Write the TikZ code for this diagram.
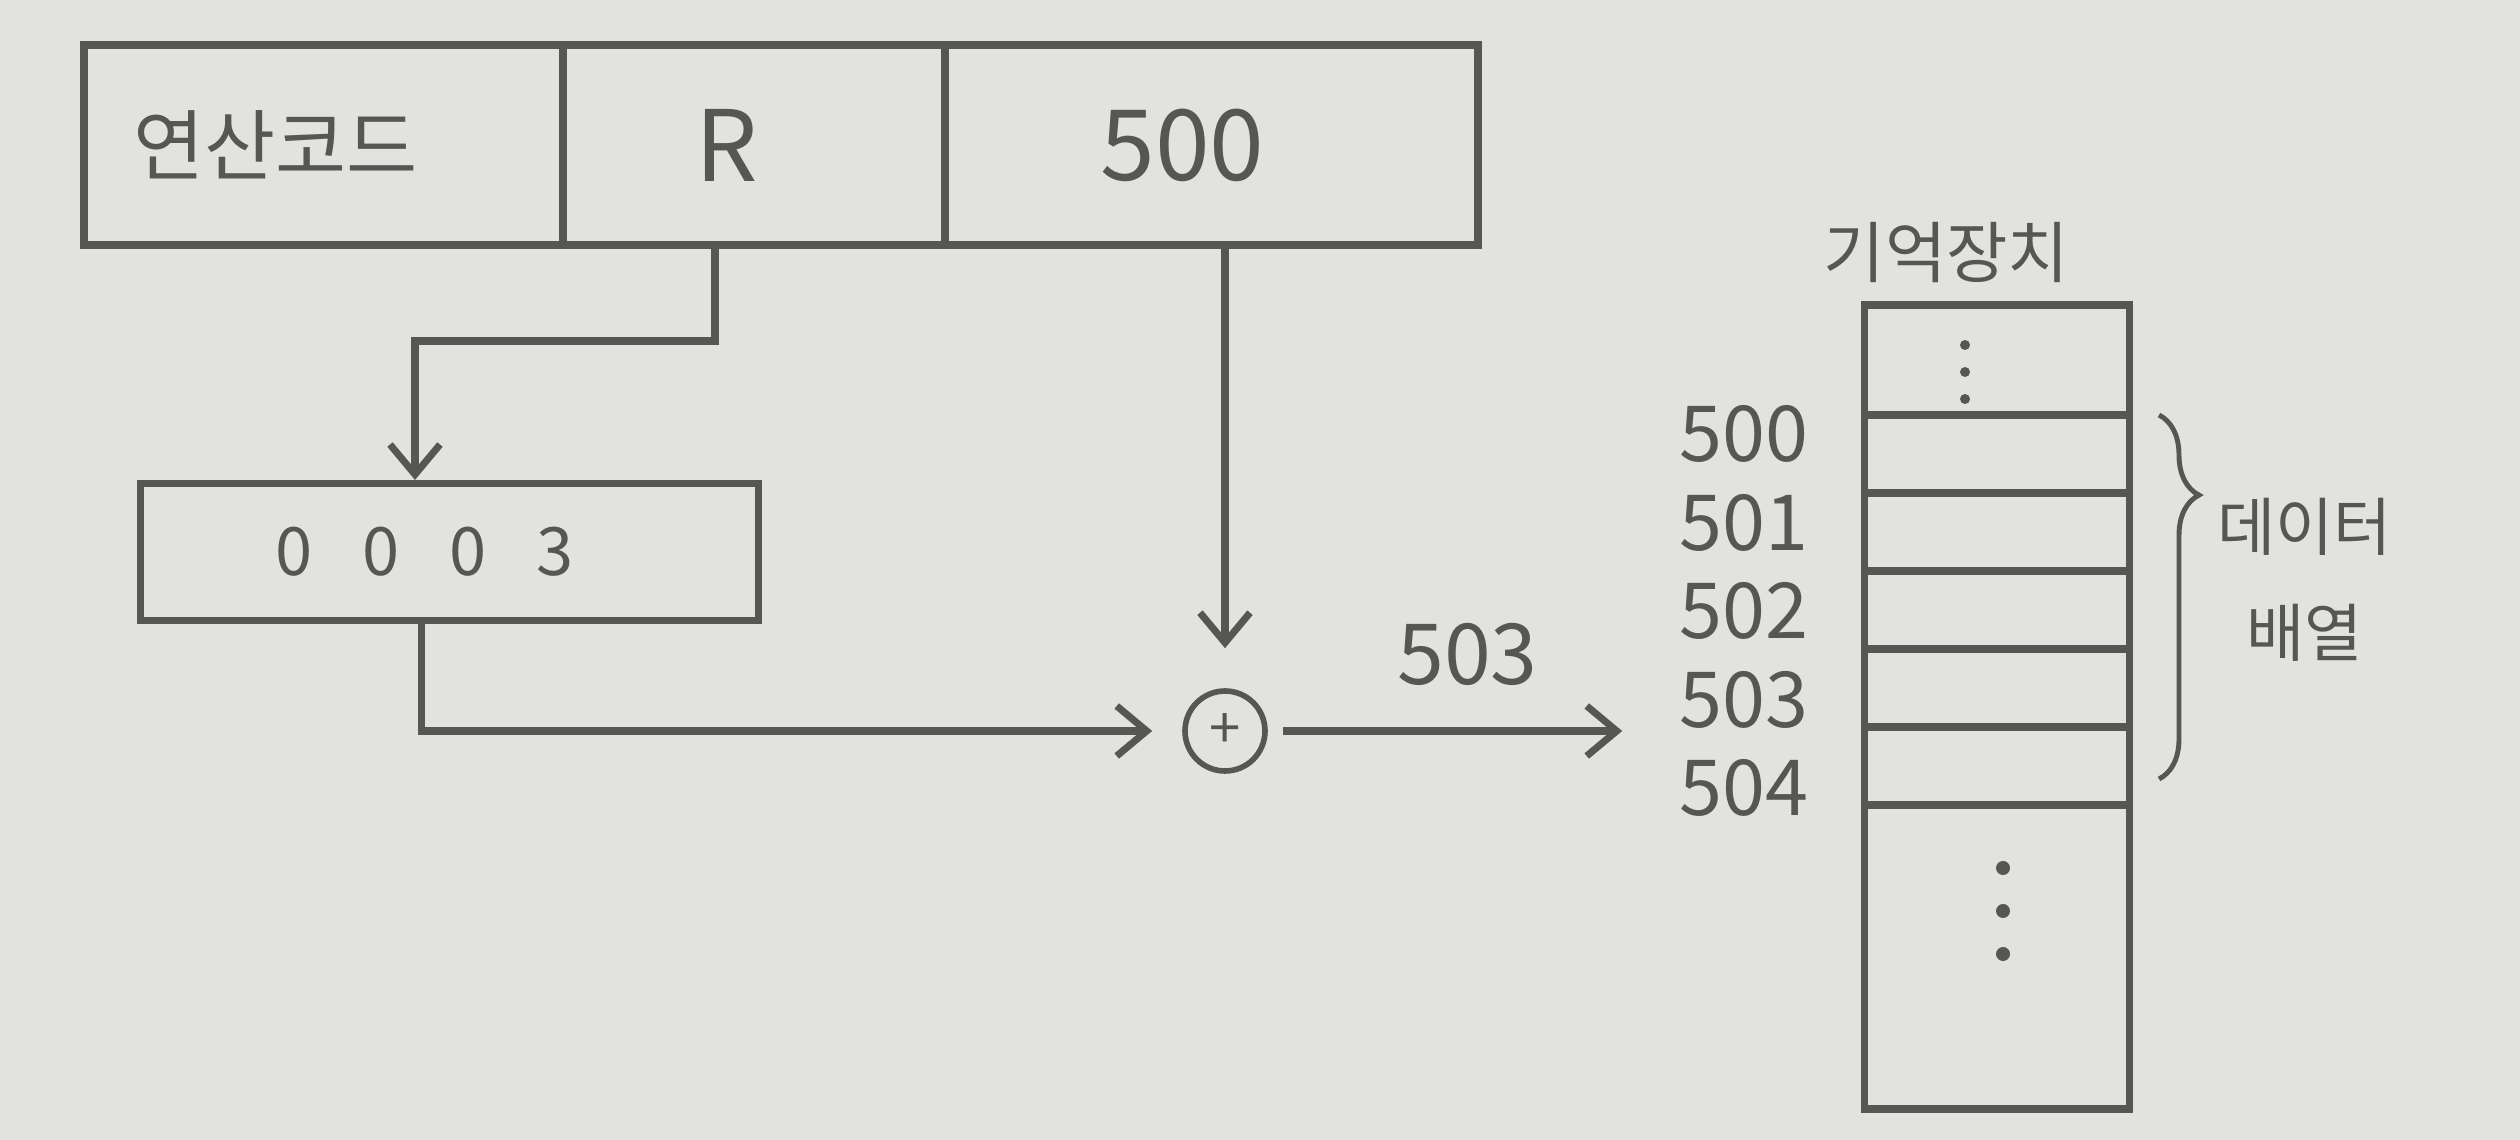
\documentclass[tikz,border=0pt]{standalone}
\usepackage{fontspec}
\newfontfamily\kr{Noto Sans CJK KR}
\usepackage{tikz}
\usetikzlibrary{arrows.meta,positioning,calc,decorations.pathreplacing}
\definecolor{ink}{RGB}{86,86,84}
\definecolor{paper}{RGB}{226,226,224}

\begin{document}
\begin{tikzpicture}[
        x=0.1mm, y=-0.1mm,
        field/.style={draw=ink, line width=2pt, outer sep=0pt,
                      minimum height=20mm, text=ink,
                      font=\kr\fontsize{22}{26}\selectfont},
        bigdigit/.style={font=\kr\fontsize{28}{32}\selectfont},
        regbox/.style={draw=ink, line width=2pt, minimum width=61.8mm,
                       minimum height=13.7mm, text=ink,
                       font=\kr\fontsize{19}{22}\selectfont},
        memcol/.style={draw=ink, line width=2pt, minimum width=26.5mm,
                       minimum height=80.4mm, outer sep=0pt},
        adder/.style={circle, draw=ink, line width=1.6pt, minimum size=8mm,
                      inner sep=0pt, text=ink,
                      font=\kr\fontsize{16}{18}\selectfont},
        lbl/.style={text=ink, font=\kr\fontsize{22}{26}\selectfont},
        arr/.style={-{Straight Barb[length=3mm, width=5mm]},
                    line width=2pt, ink},
        wire/.style={line width=2pt, ink}
      ]
        \fill[paper] (0,0) rectangle (2520,1140);

        % instruction word
        \node[field, minimum width=47.9mm, anchor=north west] (op) at (84,45)
          {\kern-9.6mm 연산코드};
        \node[field, bigdigit, minimum width=38.2mm, right=0pt of op] (reg) {\kern-5.4mm R};
        \node[field, bigdigit, minimum width=53.3mm, right=0pt of reg] (addr) {\kern-5.8mm 500};

        % index register
        \node[regbox, anchor=north west] (xr) at (137,480)
          {\kern-5mm 0\hspace{5mm}0\hspace{5mm}0\hspace{5mm}3};
        \coordinate (rbend) at (415,341);
        \draw[arr] ([xshift=-3.9mm]reg.south) |- (rbend) -- (rbend |- xr.north);

        % adder
        \node[adder] (sum) at (1225,731) {+};
        \draw[arr, shorten >=3mm] ([xshift=-2.8mm]xr.south) |- (sum.west);
        \draw[arr, shorten >=4mm] (addr.south -| sum.north) -- (sum.north);

        % memory
        \node[memcol, anchor=north west] (mem) at (1864,305) {};
        \node[lbl, font=\kr\fontsize{19}{22}\selectfont, above=1mm of mem.north,
              xshift=-5mm] (memlbl) {기억장치};
        \foreach \i in {0,...,5}
          \draw[wire] (mem.west |- 0,{415+78*\i}) -- (mem.east |- 0,{415+78*\i});
        \foreach \y in {345,372,399}
          \fill[ink] (1965,\y) circle (5);
        \foreach \y in {868,911,954}
          \fill[ink] (2003,\y) circle (7);
        \foreach \n [count=\i from 0] in {500,501,502,503,504}
          \node[lbl] (a\n) at (1744,{434+88.5*\i}) {\n};

        \draw[arr, shorten <=1.5mm, shorten >=4.5mm] (sum.east) -- (sum.east -| a503.west)
          node[lbl, font=\kr\fontsize{24}{28}\selectfont, midway, above=3mm] (off) {503};

        % data array
        \draw[ink, line width=1.4pt, decorate,
              decoration={brace, amplitude=4mm, aspect=0.22}]
          ([xshift=3mm]mem.east |- 0,415) -- ([xshift=3mm]mem.east |- 0,779);
        \node[lbl, font=\kr\fontsize{18}{30}\selectfont, align=center, anchor=west]
          (arrlbl) at (2205,580) {데이터\\배열};
      \end{tikzpicture}
\end{document}
